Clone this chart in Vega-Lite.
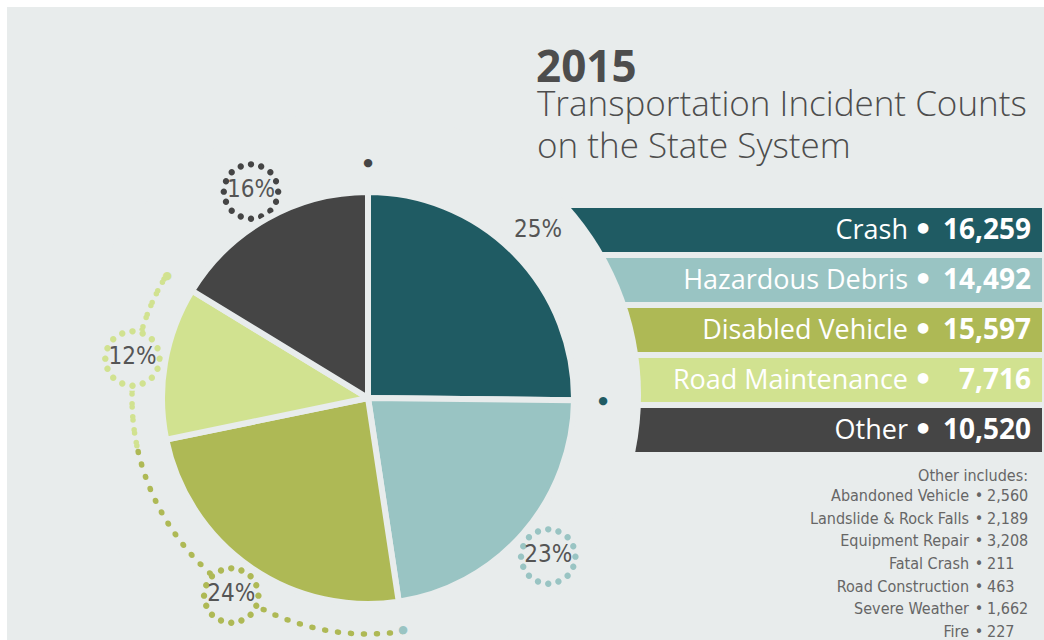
{
  "$schema": "https://vega.github.io/schema/vega-lite/v6.json",
  "width": 1037,
  "height": 633,
  "autosize": {"type": "none"},
  "padding": {"left": 7, "top": 7, "right": 0, "bottom": 0},
  "background": "#ffffff",
  "config": {"view": {"stroke": null, "fill": "#e8ecec"}, "font": "Open Sans"},
  "datasets": {
    "cats": [
      {"category": "Crash", "count": 16259, "rank": 1, "pct": "25%"},
      {"category": "Hazardous Debris", "count": 14492, "rank": 2, "pct": "23%"},
      {"category": "Disabled Vehicle", "count": 15597, "rank": 3, "pct": "24%"},
      {"category": "Road Maintenance", "count": 7716, "rank": 4, "pct": "12%"},
      {"category": "Other", "count": 10520, "rank": 5, "pct": "16%"}
    ],
    "other": [
      {"name": "Abandoned Vehicle", "count": 2560},
      {"name": "Landslide & Rock Falls", "count": 2189},
      {"name": "Equipment Repair", "count": 3208},
      {"name": "Fatal Crash", "count": 211},
      {"name": "Road Construction", "count": 463},
      {"name": "Severe Weather", "count": 1662},
      {"name": "Fire", "count": 227}
    ],
    "one": [{}]
  },
  "resolve": {"scale": {"y": "independent"}},
  "layer": [
    {
      "data": {"name": "cats"},
      "mark": {"type": "rect"},
      "encoding": {
        "x": {"datum": 540, "type": "quantitative", "scale": {"domain": [7, 1044], "nice": false, "zero": false}, "axis": null},
        "x2": {"datum": 1042},
        "y": {"field": "category", "type": "nominal", "sort": null, "scale": {"type": "band", "range": [201, 445], "paddingInner": 0.12, "paddingOuter": 0}, "axis": null},
        "color": {"field": "category", "type": "nominal", "legend": null,
          "scale": {"domain": ["Crash", "Hazardous Debris", "Disabled Vehicle", "Road Maintenance", "Other"], "range": ["#1f5b63", "#99c4c3", "#aeb955", "#d1e290", "#454545"]}}
      }
    },
    {
      "data": {"name": "cats"},
      "mark": {"type": "text", "align": "right", "baseline": "middle", "fontSize": 27, "color": "#ffffff", "dy": 1},
      "encoding": {
        "x": {"datum": 908, "type": "quantitative", "scale": {"domain": [7, 1044], "nice": false, "zero": false}, "axis": null},
        "y": {"field": "category", "type": "nominal", "sort": null, "scale": {"type": "band", "range": [201, 445], "paddingInner": 0.12, "paddingOuter": 0}, "axis": null, "bandPosition": 0.5},
        "text": {"field": "category"}
      }
    },
    {
      "data": {"name": "cats"},
      "mark": {"type": "text", "text": "•", "font": "DejaVu Sans", "align": "center", "baseline": "middle", "fontSize": 30, "fontWeight": "bold", "color": "#ffffff", "dy": 1},
      "encoding": {
        "x": {"datum": 923, "type": "quantitative", "scale": {"domain": [7, 1044], "nice": false, "zero": false}, "axis": null},
        "y": {"field": "category", "type": "nominal", "sort": null, "scale": {"type": "band", "range": [201, 445], "paddingInner": 0.12, "paddingOuter": 0}, "axis": null, "bandPosition": 0.5}
      }
    },
    {
      "data": {"name": "cats"},
      "mark": {"type": "text", "align": "right", "baseline": "middle", "fontSize": 28, "fontWeight": "bold", "color": "#ffffff", "dy": 1},
      "encoding": {
        "x": {"datum": 1031, "type": "quantitative", "scale": {"domain": [7, 1044], "nice": false, "zero": false}, "axis": null},
        "y": {"field": "category", "type": "nominal", "sort": null, "scale": {"type": "band", "range": [201, 445], "paddingInner": 0.12, "paddingOuter": 0}, "axis": null, "bandPosition": 0.5},
        "text": {"field": "count", "type": "quantitative", "format": ","}
      }
    },
    {
      "data": {"name": "one"},
      "mark": {"type": "arc", "clip": true, "theta": 0, "theta2": 6.2832, "innerRadius": 0, "outerRadius": 285, "fill": "#e8ecec"},
      "encoding": {
        "x": {"datum": 356, "type": "quantitative", "scale": {"domain": [7, 1044], "nice": false, "zero": false}, "axis": null},
        "y": {"datum": 395, "type": "quantitative", "scale": {"domain": [7, 640], "nice": false, "zero": false, "reverse": true}, "axis": null}
      }
    },
    {
      "data": {"name": "cats"},
      "transform": [
        {"stack": "count", "groupby": [], "sort": [{"field": "rank", "order": "ascending"}], "as": ["t0", "t1"]},
        {"filter": {"field": "category", "oneOf": ["Disabled Vehicle", "Road Maintenance"]}}
      ],
      "mark": {"type": "arc", "innerRadius": 236, "outerRadius": 236, "fill": "transparent", "strokeWidth": 5.5, "strokeDash": [0, 13], "strokeCap": "round"},
      "encoding": {
        "x": {"datum": 368, "type": "quantitative", "scale": {"domain": [7, 1044], "nice": false, "zero": false}, "axis": null},
        "y": {"datum": 398, "type": "quantitative", "scale": {"domain": [7, 640], "nice": false, "zero": false, "reverse": true}, "axis": null},
        "theta": {"field": "t0", "type": "quantitative"},
        "theta2": {"field": "t1"},
        "stroke": {"field": "category", "type": "nominal", "legend": null,
          "scale": {"domain": ["Crash", "Hazardous Debris", "Disabled Vehicle", "Road Maintenance", "Other"], "range": ["#1f5b63", "#99c4c3", "#aeb955", "#d1e290", "#454545"]}}
      }
    },
    {
      "data": {"name": "cats"},
      "transform": [
        {"stack": "count", "groupby": [], "sort": [{"field": "rank", "order": "ascending"}], "as": ["t0", "t1"]}
      ],
      "mark": {"type": "text", "text": "●", "font": "DejaVu Sans", "fontSize": 11, "radius": 235, "align": "center", "baseline": "middle"},
      "encoding": {
        "x": {"datum": 368, "type": "quantitative", "scale": {"domain": [7, 1044], "nice": false, "zero": false}, "axis": null},
        "y": {"datum": 398, "type": "quantitative", "scale": {"domain": [7, 640], "nice": false, "zero": false, "reverse": true}, "axis": null},
        "theta": {"field": "t1", "type": "quantitative"},
        "color": {"field": "category", "type": "nominal", "legend": null},
        "opacity": {"condition": {"test": "datum.category === 'Disabled Vehicle'", "value": 0}, "value": 1}
      }
    },
    {
      "data": {"name": "cats"},
      "mark": {"type": "text", "text": "●", "font": "DejaVu Sans", "fontSize": 80, "radius": 239, "align": "center", "baseline": "middle", "color": "#e8ecec"},
      "encoding": {
        "x": {"datum": 368, "type": "quantitative", "scale": {"domain": [7, 1044], "nice": false, "zero": false}, "axis": null},
        "y": {"datum": 398, "type": "quantitative", "scale": {"domain": [7, 640], "nice": false, "zero": false, "reverse": true}, "axis": null},
        "theta": {"field": "count", "type": "quantitative", "stack": true},
        "order": {"field": "rank"},
        "opacity": {"condition": {"test": "datum.category === 'Crash'", "value": 0}, "value": 1}
      }
    },
    {
      "data": {"name": "cats"},
      "mark": {"type": "text", "text": "◌", "font": "Noto Sans", "fontSize": 122, "radius": 239, "align": "center", "baseline": "middle"},
      "encoding": {
        "x": {"datum": 368, "type": "quantitative", "scale": {"domain": [7, 1044], "nice": false, "zero": false}, "axis": null},
        "y": {"datum": 398, "type": "quantitative", "scale": {"domain": [7, 640], "nice": false, "zero": false, "reverse": true}, "axis": null},
        "theta": {"field": "count", "type": "quantitative", "stack": true},
        "order": {"field": "rank"},
        "color": {"field": "category", "type": "nominal", "legend": null},
        "opacity": {"condition": {"test": "datum.category === 'Crash'", "value": 0}, "value": 1}
      }
    },
    {
      "data": {"name": "cats"},
      "mark": {"type": "arc", "outerRadius": 206, "stroke": "#e8ecec", "strokeWidth": 6, "strokeJoin": "round"},
      "encoding": {
        "x": {"datum": 368, "type": "quantitative", "scale": {"domain": [7, 1044], "nice": false, "zero": false}, "axis": null},
        "y": {"datum": 398, "type": "quantitative", "scale": {"domain": [7, 640], "nice": false, "zero": false, "reverse": true}, "axis": null},
        "theta": {"field": "count", "type": "quantitative", "stack": true},
        "order": {"field": "rank"},
        "color": {"field": "category", "type": "nominal", "legend": null}
      }
    },
    {
      "data": {"name": "cats"},
      "mark": {"type": "text", "radius": 239, "font": "DejaVu Sans Condensed", "fontSize": 24, "color": "#555555", "align": "center", "baseline": "middle"},
      "encoding": {
        "x": {"datum": 368, "type": "quantitative", "scale": {"domain": [7, 1044], "nice": false, "zero": false}, "axis": null},
        "y": {"datum": 398, "type": "quantitative", "scale": {"domain": [7, 640], "nice": false, "zero": false, "reverse": true}, "axis": null},
        "theta": {"field": "count", "type": "quantitative", "stack": true},
        "order": {"field": "rank"},
        "text": {"field": "pct"}
      }
    },
    {
      "data": {"name": "one"},
      "mark": {"type": "text", "text": "2015", "fontSize": 44, "fontWeight": "bold", "color": "#4d4d4d", "align": "left", "baseline": "alphabetic"},
      "encoding": {
        "x": {"datum": 536, "type": "quantitative", "scale": {"domain": [7, 1044], "nice": false, "zero": false}, "axis": null},
        "y": {"datum": 82, "type": "quantitative", "scale": {"domain": [7, 640], "nice": false, "zero": false, "reverse": true}, "axis": null}
      }
    },
    {
      "data": {"name": "one"},
      "mark": {"type": "text", "text": ["Transportation Incident Counts", "on the State System"], "fontSize": 35, "fontWeight": 300, "lineHeight": 42, "color": "#4d4d4d", "align": "left", "baseline": "alphabetic"},
      "encoding": {
        "x": {"datum": 537, "type": "quantitative", "scale": {"domain": [7, 1044], "nice": false, "zero": false}, "axis": null},
        "y": {"datum": 116, "type": "quantitative", "scale": {"domain": [7, 640], "nice": false, "zero": false, "reverse": true}, "axis": null}
      }
    },
    {
      "data": {"name": "one"},
      "mark": {"type": "text", "text": "Other includes:", "font": "DejaVu Sans Condensed", "fontSize": 16, "color": "#666666", "align": "right", "baseline": "middle"},
      "encoding": {
        "x": {"datum": 1028, "type": "quantitative", "scale": {"domain": [7, 1044], "nice": false, "zero": false}, "axis": null},
        "y": {"datum": 476, "type": "quantitative", "scale": {"domain": [7, 640], "nice": false, "zero": false, "reverse": true}, "axis": null}
      }
    },
    {
      "data": {"name": "other"},
      "mark": {"type": "text", "font": "DejaVu Sans Condensed", "fontSize": 16, "color": "#666666", "align": "right", "baseline": "middle"},
      "encoding": {
        "x": {"datum": 969, "type": "quantitative", "scale": {"domain": [7, 1044], "nice": false, "zero": false}, "axis": null},
        "y": {"field": "name", "type": "nominal", "sort": null, "scale": {"type": "point", "range": [489, 625], "padding": 0}, "axis": null},
        "text": {"field": "name"}
      }
    },
    {
      "data": {"name": "other"},
      "mark": {"type": "text", "text": "•", "font": "DejaVu Sans Condensed", "fontSize": 16, "color": "#666666", "align": "center", "baseline": "middle"},
      "encoding": {
        "x": {"datum": 979, "type": "quantitative", "scale": {"domain": [7, 1044], "nice": false, "zero": false}, "axis": null},
        "y": {"field": "name", "type": "nominal", "sort": null, "scale": {"type": "point", "range": [489, 625], "padding": 0}, "axis": null}
      }
    },
    {
      "data": {"name": "other"},
      "mark": {"type": "text", "font": "DejaVu Sans Condensed", "fontSize": 16, "color": "#666666", "align": "left", "baseline": "middle"},
      "encoding": {
        "x": {"datum": 987, "type": "quantitative", "scale": {"domain": [7, 1044], "nice": false, "zero": false}, "axis": null},
        "y": {"field": "name", "type": "nominal", "sort": null, "scale": {"type": "point", "range": [489, 625], "padding": 0}, "axis": null},
        "text": {"field": "count", "type": "quantitative", "format": ","}
      }
    }
  ]
}
